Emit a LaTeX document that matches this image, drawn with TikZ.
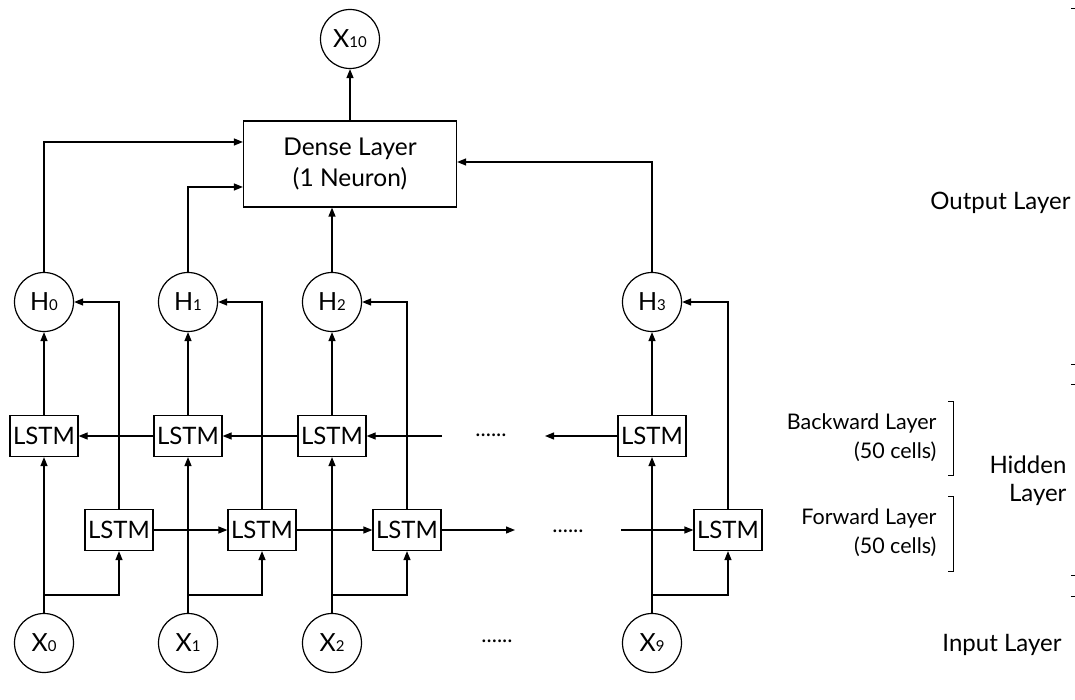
\documentclass[tikz,border=0pt]{standalone}
\usepackage{fontspec}
\setmainfont{Lato}
\usetikzlibrary{arrows.meta}
\newcommand\lsub[1]{{\fontsize{15}{15}\selectfont #1}}
\begin{document}
\begin{tikzpicture}[x=1pt,y=-1pt,line width=1.2pt,
  arr/.style={-{Triangle[length=9pt,width=7pt]}},
  cell/.style={draw,minimum width=68pt,minimum height=41pt,inner sep=0pt,font=\fontsize{24}{26}\selectfont},
  neuron/.style={draw,circle,minimum size=59pt,inner sep=0pt,font=\fontsize{25}{28}\selectfont},
  dense/.style={draw,minimum width=213pt,minimum height=86pt,inner sep=0pt,align=center,font=\fontsize{24.5}{31}\selectfont},
  lbl/.style={font=\fontsize{24}{28}\selectfont,align=right,inner sep=0pt},
  sublbl/.style={font=\fontsize{21.5}{29}\selectfont,align=right,inner sep=0pt},
  dots/.style={font=\fontsize{22}{24}\selectfont,inner sep=0pt}]
\useasboundingbox (0,0) rectangle (1075,700);

% output
\node[neuron] (X10) at (350,39) {X\lsub{10}};
\node[dense] (dense) at (350,164) {Dense Layer\\(1 Neuron)};

% hidden outputs
\node[neuron] (H0) at (44,302) {H\lsub{0}};
\node[neuron] (H1) at (188,302) {H\lsub{1}};
\node[neuron] (H2) at (332,302) {H\lsub{2}};
\node[neuron] (H3) at (652,302) {H\lsub{3}};

% backward cells
\node[cell] (B0) at (44,436) {LSTM};
\node[cell] (B1) at (188,436) {LSTM};
\node[cell] (B2) at (332,436) {LSTM};
\node[cell] (B3) at (652,436) {LSTM};

% forward cells
\node[cell] (F0) at (119,530) {LSTM};
\node[cell] (F1) at (262,530) {LSTM};
\node[cell] (F2) at (407,530) {LSTM};
\node[cell] (F3) at (728,530) {LSTM};

% inputs
\node[neuron] (X0) at (44,643) {X\lsub{0}};
\node[neuron] (X1) at (188,643) {X\lsub{1}};
\node[neuron] (X2) at (332,643) {X\lsub{2}};
\node[neuron] (X9) at (652,643) {X\lsub{9}};

% dots
\node[dots] (dx) at (497,641) {......};
\node[dots] (db) at (491,435) {......};
\node[dots] (df) at (568,531) {......};

% junctions
\coordinate (j0) at (44,595);
\coordinate (j1) at (188,595);
\coordinate (j2) at (332,595);
\coordinate (j9) at (652,595);
\coordinate (bd1) at (442,436);
\coordinate (bd2) at (545,436);
\coordinate (fd1) at (515,530);
\coordinate (fd2) at (621,530);

% input to cells
\foreach \i/\k in {0/0,1/1,2/2,9/3}{
  \draw[arr] (X\i.north) -- (B\k.south);
  \draw[arr] (j\i) -| (F\k.south);
  \draw[arr] (B\k.north) -- (H\k.south);
  \draw[arr] (F\k.north) |- (H\k.east);
}

% forward chain
\draw[arr] (F0.east) -- (F1.west);
\draw[arr] (F1.east) -- (F2.west);
\draw[arr] (F2.east) -- (fd1);
\draw[arr] (fd2) -- (F3.west);

% backward chain
\draw[arr] (B1.west) -- (B0.east);
\draw[arr] (B2.west) -- (B1.east);
\draw[arr] (bd1) -- (B2.east);
\draw[arr] (B3.west) -- (bd2);

% to dense
\draw[arr] (H0.north) |- ([yshift=22pt]dense.west);
\draw[arr] (H1.north) |- ([yshift=-23pt]dense.west);
\draw[arr] (H2.north) -- (H2.north |- dense.south);
\draw[arr] (H3.north) |- ([yshift=2pt]dense.east);
\draw[arr] (dense.north) -- (X10.south);

% labels
\node[lbl,anchor=east] (lout) at (1071,203) {Output Layer};
\node[sublbl,anchor=east] (lbw) at (937,438) {Backward Layer\\(50 cells)};
\node[sublbl,anchor=east] (lfw) at (937,533) {Forward Layer\\(50 cells)};
\node[lbl,anchor=east] (lhid) at (1067,481) {Hidden\\Layer};
\node[lbl,anchor=east] (lin) at (1062,645) {Input Layer};

% brackets
\draw[line width=1pt] (948,401) -- (953,401) -- (953,475) -- (948,475);
\draw[line width=1pt] (948,496) -- (953,496) -- (953,571) -- (948,571);

% edge ticks
\foreach \yy in {9,364,384,575,596}{
  \draw[line width=1pt] (1071,\yy) -- (1075,\yy);
}
\end{tikzpicture}
\end{document}
